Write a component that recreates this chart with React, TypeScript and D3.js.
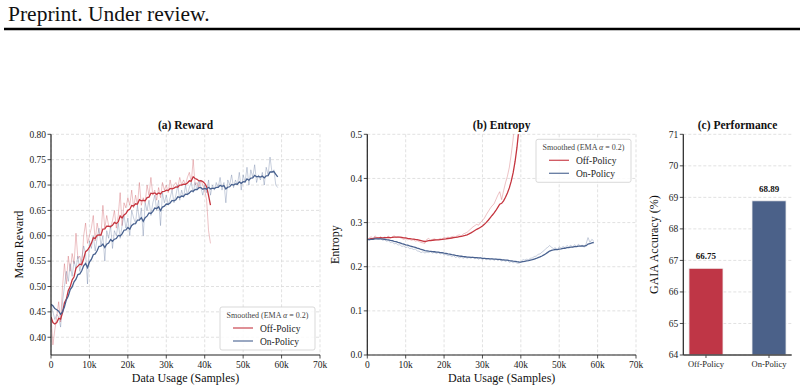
import * as d3 from "d3";

const WIDTH = 804;
const HEIGHT = 392;

// samples between logged steps
const STEP = 500;

const rewardOff = [
  0.440, 0.385, 0.415, 0.440, 0.470, 0.430, 0.500, 0.545, 0.505, 0.560,
  0.530, 0.565, 0.545, 0.605, 0.555, 0.560, 0.540, 0.600, 0.625, 0.585,
  0.600, 0.615, 0.640, 0.590, 0.625, 0.605, 0.600, 0.660, 0.615, 0.640,
  0.620, 0.615, 0.630, 0.650, 0.615, 0.640, 0.685, 0.620, 0.665, 0.655,
  0.675, 0.660, 0.690, 0.655, 0.680, 0.660, 0.705, 0.660, 0.675, 0.665,
  0.700, 0.680, 0.715, 0.680, 0.690, 0.670, 0.695, 0.675, 0.705, 0.690,
  0.700, 0.685, 0.710, 0.690, 0.700, 0.705, 0.695, 0.715, 0.700, 0.710,
  0.700, 0.715, 0.725, 0.705, 0.750, 0.700, 0.705, 0.695, 0.710, 0.700,
  0.690, 0.670, 0.610, 0.585,
];

const rewardOn = [
  0.465, 0.450, 0.435, 0.445, 0.440, 0.420, 0.470, 0.500, 0.530, 0.510,
  0.545, 0.520, 0.550, 0.535, 0.560, 0.530, 0.555, 0.580, 0.565, 0.505,
  0.590, 0.575, 0.600, 0.570, 0.595, 0.615, 0.580, 0.600, 0.550, 0.610,
  0.595, 0.620, 0.575, 0.610, 0.600, 0.625, 0.595, 0.620, 0.640, 0.615,
  0.635, 0.600, 0.650, 0.635, 0.625, 0.660, 0.630, 0.655, 0.600, 0.665,
  0.650, 0.670, 0.640, 0.665, 0.680, 0.650, 0.670, 0.620, 0.685, 0.665,
  0.680, 0.660, 0.675, 0.690, 0.665, 0.680, 0.700, 0.670, 0.690, 0.675,
  0.700, 0.680, 0.695, 0.705, 0.685, 0.705, 0.690, 0.710, 0.695, 0.680,
  0.700, 0.685, 0.710, 0.680, 0.700, 0.690, 0.705, 0.695, 0.715, 0.690,
  0.705, 0.665, 0.710, 0.700, 0.720, 0.695, 0.710, 0.700, 0.725, 0.690,
  0.720, 0.705, 0.735, 0.700, 0.730, 0.715, 0.740, 0.705, 0.720, 0.710,
  0.725, 0.700, 0.735, 0.720, 0.755, 0.725, 0.730, 0.700, 0.695,
];

const entropyOff = [
  0.262, 0.265, 0.268, 0.264, 0.270, 0.266, 0.265, 0.268, 0.264, 0.267,
  0.266, 0.269, 0.265, 0.268, 0.270, 0.266, 0.268, 0.266, 0.264, 0.262,
  0.264, 0.261, 0.262, 0.260, 0.261, 0.258, 0.259, 0.257, 0.255, 0.254,
  0.253, 0.262, 0.264, 0.260, 0.262, 0.263, 0.261, 0.262, 0.264, 0.263,
  0.266, 0.265, 0.267, 0.266, 0.268, 0.269, 0.268, 0.271, 0.272, 0.270,
  0.274, 0.276, 0.278, 0.282, 0.286, 0.290, 0.293, 0.296, 0.294, 0.300,
  0.305, 0.310, 0.318, 0.325, 0.332, 0.338, 0.342, 0.352, 0.362, 0.370,
  0.352, 0.372, 0.390, 0.405, 0.425, 0.455, 0.490, 0.540, 0.600, 0.680,
  0.780, 0.900, 1.050, 1.200,
];

const entropyOn = [
  0.262, 0.260, 0.264, 0.263, 0.267, 0.263, 0.262, 0.264, 0.260, 0.261,
  0.258, 0.259, 0.255, 0.256, 0.252, 0.253, 0.249, 0.250, 0.246, 0.247,
  0.243, 0.245, 0.241, 0.242, 0.239, 0.240, 0.236, 0.235, 0.232, 0.234,
  0.231, 0.233, 0.232, 0.234, 0.231, 0.233, 0.230, 0.232, 0.229, 0.231,
  0.227, 0.228, 0.225, 0.226, 0.223, 0.225, 0.221, 0.223, 0.220, 0.222,
  0.219, 0.222, 0.219, 0.221, 0.219, 0.222, 0.218, 0.220, 0.217, 0.220,
  0.216, 0.219, 0.216, 0.218, 0.215, 0.219, 0.214, 0.218, 0.214, 0.216,
  0.213, 0.215, 0.212, 0.214, 0.210, 0.212, 0.209, 0.211, 0.208, 0.208,
  0.210, 0.216, 0.215, 0.217, 0.216, 0.219, 0.220, 0.223, 0.224, 0.228,
  0.229, 0.233, 0.236, 0.241, 0.244, 0.248, 0.244, 0.241, 0.243, 0.238,
  0.245, 0.242, 0.246, 0.243, 0.248, 0.245, 0.249, 0.244, 0.250, 0.246,
  0.251, 0.247, 0.249, 0.244, 0.252, 0.266, 0.255, 0.262, 0.258,
];

const barLabels = ["Off-Policy", "On-Policy"];
const barValues = [66.75, 68.89];

const xTicks = [0, 10000, 20000, 30000, 40000, 50000, 60000, 70000];
const rewardTicks = [0.4, 0.45, 0.5, 0.55, 0.6, 0.65, 0.7, 0.75, 0.8];
const entropyTicks = [0, 0.1, 0.2, 0.3, 0.4, 0.5];
const accTicks = [64, 65, 66, 67, 68, 69, 70, 71];

const RED = "#C5353F";
const BLUE = "#48618F";
const BAR_RED = "#BF3646";
const BAR_BLUE = "#4B6189";
const FONT = "'Liberation Serif', 'DejaVu Serif', serif";
const GRID = "#d9d9d9";

const ema = (vals: number[], alpha = 0.2) => {
  let s = vals[0];
  return vals.map((v) => (s = alpha * v + (1 - alpha) * s));
};

type Series = { name: string; color: string; values: number[] };

type LineProps = {
  id: string;
  left: number;
  right: number;
  top: number;
  bottom: number;
  yDomain: [number, number];
  yTicks: number[];
  yFormat: (v: number) => string;
  title: string;
  yLabel: string;
  series: Series[];
  legendTop: boolean;
};

const LinePanel = ({ id, left, right, top, bottom, yDomain, yTicks, yFormat, title, yLabel, series, legendTop }: LineProps) => {
  const x = d3.scaleLinear().domain([0, 70000]).range([left, right]);
  const y = d3.scaleLinear().domain(yDomain).range([bottom, top]);
  const line = d3
    .line<number>()
    .x((_, i) => x(i * STEP))
    .y((d) => y(d));

  const lw = 95;
  const lh = 43;
  const lx = right - 5 - lw;
  const ly = legendTop ? top + 5 : bottom - 5 - lh;

  return (
    <g fontFamily={FONT}>
      <defs>
        <clipPath id={id}>
          <rect x={left} y={top} width={right - left} height={bottom - top} />
        </clipPath>
      </defs>
      {xTicks.map((t) => (
        <line key={"gx" + t} x1={x(t)} x2={x(t)} y1={top} y2={bottom} stroke={GRID} strokeWidth={0.8} strokeDasharray="3,2" />
      ))}
      {yTicks.map((t) => (
        <line key={"gy" + t} x1={left} x2={right} y1={y(t)} y2={y(t)} stroke={GRID} strokeWidth={0.8} strokeDasharray="3,2" />
      ))}
      <g clipPath={`url(#${id})`}>
        {series.map((s) => (
          <path key={"raw" + s.name} d={line(s.values) || undefined} fill="none" stroke={s.color} strokeOpacity={0.3} strokeWidth={1} />
        ))}
        {series.map((s) => (
          <path key={"ema" + s.name} d={line(ema(s.values)) || undefined} fill="none" stroke={s.color} strokeWidth={1.3} />
        ))}
      </g>
      <line x1={left} x2={left} y1={top} y2={bottom} stroke="#222" strokeWidth={1.2} />
      <line x1={left} x2={right} y1={bottom} y2={bottom} stroke="#222" strokeWidth={1.2} />
      {xTicks.map((t) => (
        <g key={"tx" + t}>
          <line x1={x(t)} x2={x(t)} y1={bottom} y2={bottom + 3.5} stroke="#222" strokeWidth={0.8} />
          <text x={x(t)} y={bottom + 13} textAnchor="middle" fontSize={9.5} fill="#222">
            {t === 0 ? "0" : `${t / 1000}k`}
          </text>
        </g>
      ))}
      {yTicks.map((t) => (
        <g key={"ty" + t}>
          <line x1={left - 3.5} x2={left} y1={y(t)} y2={y(t)} stroke="#222" strokeWidth={0.8} />
          <text x={left - 5} y={y(t) + 3.3} textAnchor="end" fontSize={9.5} fill="#222">
            {yFormat(t)}
          </text>
        </g>
      ))}
      <text x={(left + right) / 2} y={top - 5} textAnchor="middle" fontSize={11.5} fontWeight="bold" fill="#111">
        {title}
      </text>
      <text x={(left + right) / 2} y={bottom + 27} textAnchor="middle" fontSize={12} fill="#111">
        Data Usage (Samples)
      </text>
      <text transform={`translate(${left - 28},${(top + bottom) / 2}) rotate(-90)`} textAnchor="middle" fontSize={12} fill="#111">
        {yLabel}
      </text>
      <g>
        <rect x={lx} y={ly} width={lw} height={lh} rx={2} fill="#fff" fillOpacity={0.85} stroke="#cfcfcf" strokeWidth={0.8} />
        <text x={lx + lw / 2} y={ly + 10.5} textAnchor="middle" fontSize={8} fill="#444">
          Smoothed (EMA <tspan fontStyle="italic">α</tspan> = 0.2)
        </text>
        {series.map((s, i) => (
          <g key={"lg" + s.name}>
            <line x1={lx + 13} x2={lx + 33} y1={ly + 21 + i * 13} y2={ly + 21 + i * 13} stroke={s.color} strokeWidth={1.3} strokeOpacity={0.85} />
            <text x={lx + 40} y={ly + 24.5 + i * 13} fontSize={9.5} fill="#222">
              {s.name}
            </text>
          </g>
        ))}
      </g>
    </g>
  );
};

const BarPanel = () => {
  const left = 683.3;
  const right = 791.7;
  const top = 134.3;
  const bottom = 355;
  const x = d3.scaleBand<string>().domain(barLabels).range([left, right]).paddingInner(0.46).paddingOuter(0.09);
  const y = d3.scaleLinear().domain([64, 71]).range([bottom, top]);
  const colors = [BAR_RED, BAR_BLUE];

  return (
    <g fontFamily={FONT}>
      {accTicks.map((t) => (
        <line key={"g" + t} x1={left} x2={right} y1={y(t)} y2={y(t)} stroke={GRID} strokeWidth={0.8} strokeDasharray="3,2" />
      ))}
      {barLabels.map((c, i) => (
        <g key={c}>
          <rect x={x(c)} y={y(barValues[i])} width={x.bandwidth()} height={bottom - y(barValues[i])} fill={colors[i]} stroke="#f2f2f2" strokeWidth={0.8} />
          <text x={(x(c) || 0) + x.bandwidth() / 2} y={y(barValues[i]) - 9} textAnchor="middle" fontSize={9} fontWeight="bold" fill="#111">
            {barValues[i].toFixed(2)}
          </text>
          <line x1={(x(c) || 0) + x.bandwidth() / 2} x2={(x(c) || 0) + x.bandwidth() / 2} y1={bottom} y2={bottom + 3} stroke="#222" strokeWidth={0.8} />
          <text x={(x(c) || 0) + x.bandwidth() / 2} y={bottom + 12} textAnchor="middle" fontSize={8.5} fill="#222">
            {c}
          </text>
        </g>
      ))}
      <line x1={left} x2={left} y1={top} y2={bottom} stroke="#222" strokeWidth={1.2} />
      <line x1={left} x2={right} y1={bottom} y2={bottom} stroke="#444" strokeWidth={1.4} />
      {accTicks.map((t) => (
        <g key={"t" + t}>
          <line x1={left - 3.5} x2={left} y1={y(t)} y2={y(t)} stroke="#222" strokeWidth={0.8} />
          <text x={left - 5} y={y(t) + 3.3} textAnchor="end" fontSize={9.5} fill="#222">
            {t}
          </text>
        </g>
      ))}
      <text x={(left + right) / 2} y={top - 5} textAnchor="middle" fontSize={11.5} fontWeight="bold" fill="#111">
        (c) Performance
      </text>
      <text transform={`translate(${left - 25},${(top + bottom) / 2}) rotate(-90)`} textAnchor="middle" fontSize={12} fill="#111">
        GAIA Accuracy (%)
      </text>
    </g>
  );
};

const App = () => {
  return (
    <svg width={WIDTH} height={HEIGHT} style={{ position: "absolute", left: 0, top: 0, background: "#fff" }}>
      <text x={8} y={21} fontFamily={FONT} fontSize={21.5} fill="#111">
        Preprint. Under review.
      </text>
      <line x1={4} x2={800} y1={29} y2={29} stroke="#000" strokeWidth={2.5} />
      <LinePanel
        id="clip-reward"
        left={51}
        right={320}
        top={134.3}
        bottom={355}
        yDomain={[0.365, 0.8]}
        yTicks={rewardTicks}
        yFormat={(v) => v.toFixed(2)}
        title="(a) Reward"
        yLabel="Mean Reward"
        series={[
          { name: "Off-Policy", color: RED, values: rewardOff },
          { name: "On-Policy", color: BLUE, values: rewardOn },
        ]}
        legendTop={false}
      />
      <LinePanel
        id="clip-entropy"
        left={367.3}
        right={636}
        top={134.3}
        bottom={355}
        yDomain={[0, 0.5]}
        yTicks={entropyTicks}
        yFormat={(v) => v.toFixed(1)}
        title="(b) Entropy"
        yLabel="Entropy"
        series={[
          { name: "Off-Policy", color: RED, values: entropyOff },
          { name: "On-Policy", color: BLUE, values: entropyOn },
        ]}
        legendTop={true}
      />
      <BarPanel />
    </svg>
  );
};

export default App;
